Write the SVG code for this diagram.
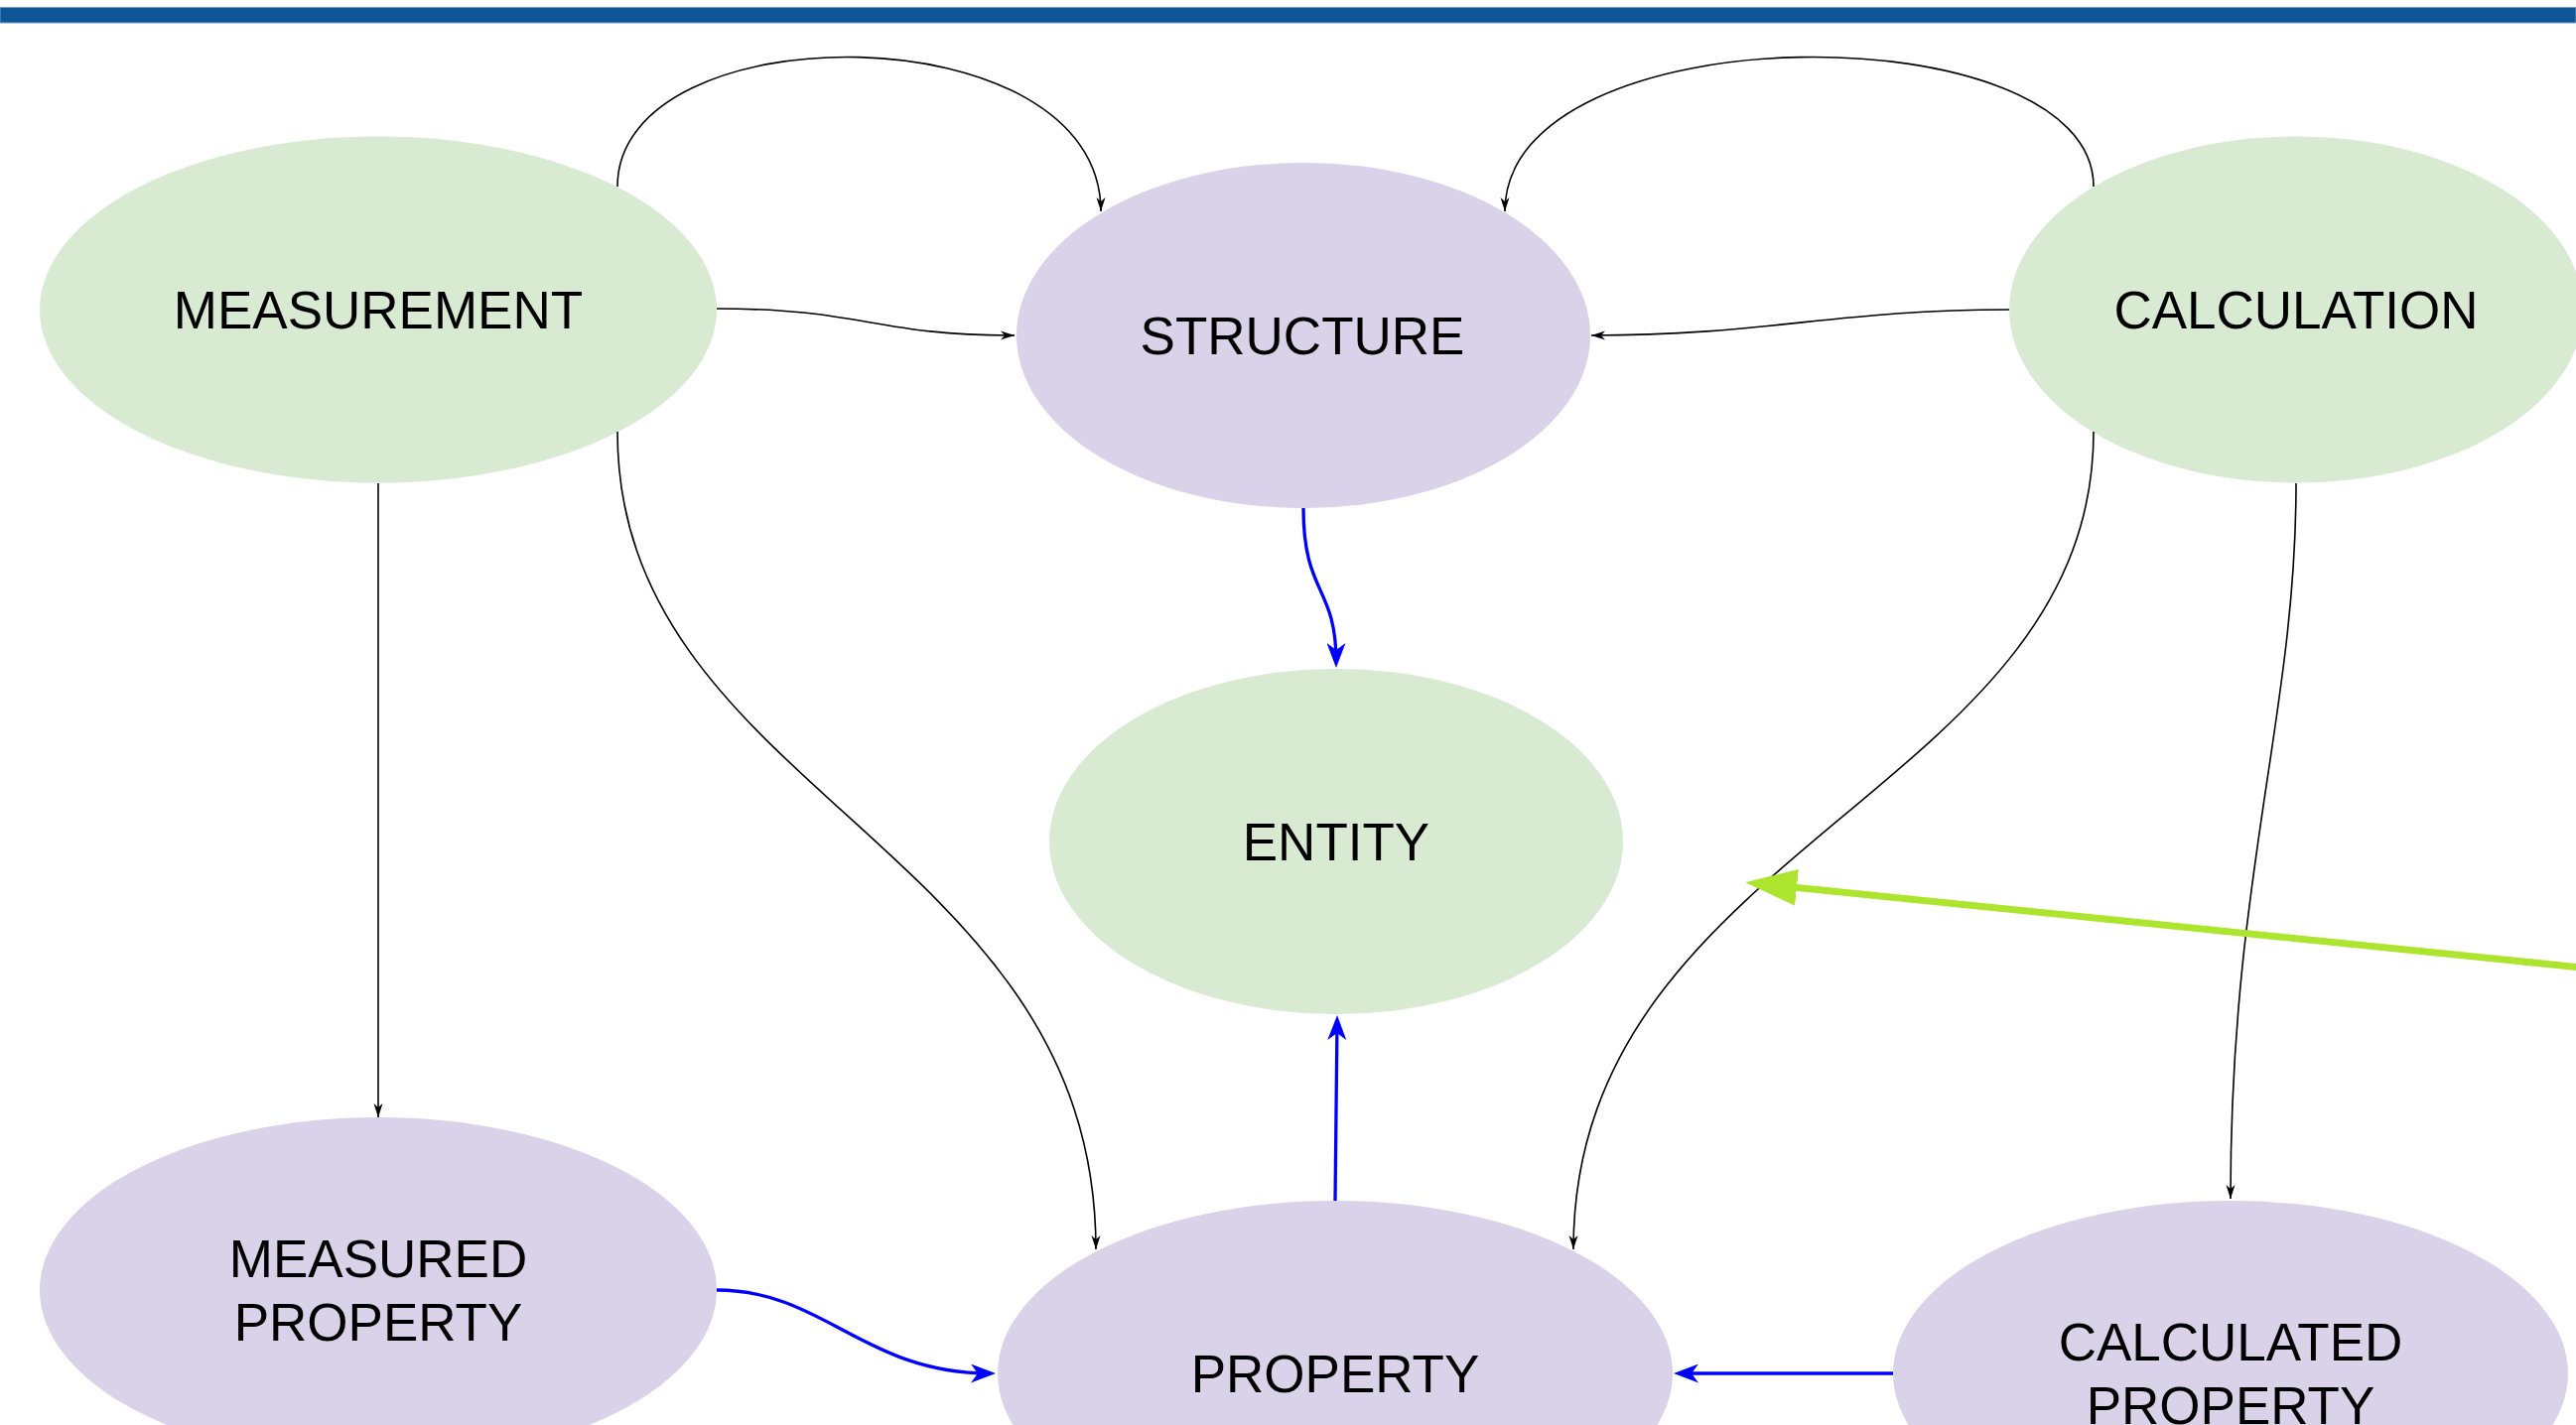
<svg xmlns="http://www.w3.org/2000/svg" width="2595" height="1436" viewBox="0 0 2595 1436">
<style>
.green{fill:#d9ead3}
.purple{fill:#d9d2e9}
.lbl{font-family:"Liberation Sans",Arial,sans-serif;font-size:53px;fill:#000;text-anchor:middle}
.thin{fill:none;stroke:#000;stroke-width:1.6}
.blue{fill:none;stroke:#0000ff;stroke-width:3.3}
.lime{fill:none;stroke:#ade52e;stroke-width:7}
</style>
<defs>
<marker id="ab" viewBox="0 0 14 10" markerUnits="userSpaceOnUse" markerWidth="14" markerHeight="10" refX="14" refY="5" orient="auto">
<path d="M0,0.5 L14,5 L0,9.5 L4,5 z" fill="#000"/>
</marker>
<marker id="au" viewBox="0 0 25 19" markerUnits="userSpaceOnUse" markerWidth="25" markerHeight="19" refX="19" refY="9.5" orient="auto">
<path d="M0,0 L25,9.5 L0,19 L7,9.5 z" fill="#0000ff"/>
</marker>
<marker id="ag" viewBox="0 -19 52 38" markerUnits="userSpaceOnUse" markerWidth="52" markerHeight="38" refX="2" refY="0" orient="auto">
<path d="M0,-18.5 L52,0 L0,18.5 z" fill="#ade52e"/>
</marker>
</defs>
<rect x="0" y="7.5" width="2595" height="15.5" fill="#0e5595" stroke="#6d9cc8" stroke-width="1"/>

<g id="measurement"><ellipse class="green" cx="381" cy="312" rx="341" ry="174.5"/><text class="lbl" x="381" y="331">MEASUREMENT</text></g>
<g id="structure"><ellipse class="purple" cx="1313" cy="338" rx="289" ry="174"/><text class="lbl" x="1312" y="357">STRUCTURE</text></g>
<g id="calculation"><ellipse class="green" cx="2313" cy="312" rx="289" ry="174.5"/><text class="lbl" x="2313" y="331">CALCULATION</text></g>
<g id="entity"><ellipse class="green" cx="1346" cy="848" rx="289" ry="174"/><text class="lbl" x="1346" y="867">ENTITY</text></g>
<g id="measured-property"><ellipse class="purple" cx="381" cy="1300" rx="341" ry="174"/><text class="lbl" x="381" y="1287">MEASURED</text><text class="lbl" x="381" y="1351">PROPERTY</text></g>
<g id="property"><ellipse class="purple" cx="1345" cy="1384" rx="340" ry="174"/><text class="lbl" x="1345" y="1403">PROPERTY</text></g>
<g id="calculated-property"><ellipse class="purple" cx="2247" cy="1384" rx="340" ry="174"/><text class="lbl" x="2247" y="1371">CALCULATED</text><text class="lbl" x="2247" y="1435">PROPERTY</text></g>

<g id="connectors">
<path class="thin" d="M622,188 C622,10 1109,10 1109,213" marker-end="url(#ab)"/>
<path class="thin" d="M722,311 C870,311 880,338 1022,338" marker-end="url(#ab)"/>
<path class="thin" d="M2024,312 C1850,312 1780,338 1603,338" marker-end="url(#ab)"/>
<path class="thin" d="M2109,188 C2109,10 1516,10 1516,213" marker-end="url(#ab)"/>
<path class="thin" d="M381,487 L381,1126" marker-end="url(#ab)"/>
<path class="thin" d="M622,435 C622,800 1104,850 1104,1259" marker-end="url(#ab)"/>
<path class="thin" d="M2109,435 C2109,800 1585,850 1585,1259" marker-end="url(#ab)"/>
<path class="thin" d="M2313,487 C2313,720 2247,880 2247,1208" marker-end="url(#ab)"/>
<path class="blue" d="M1313,512 C1313,600 1346,590 1346,667" marker-end="url(#au)"/>
<path class="blue" d="M1345,1210 L1347,1029" marker-end="url(#au)"/>
<path class="blue" d="M722,1300 C830,1300 870,1384 997,1384" marker-end="url(#au)"/>
<path class="blue" d="M1907,1384 L1692,1384" marker-end="url(#au)"/>
<path class="lime" d="M2600,975 L1808,894.2" marker-end="url(#ag)"/>
</g>
</svg>
